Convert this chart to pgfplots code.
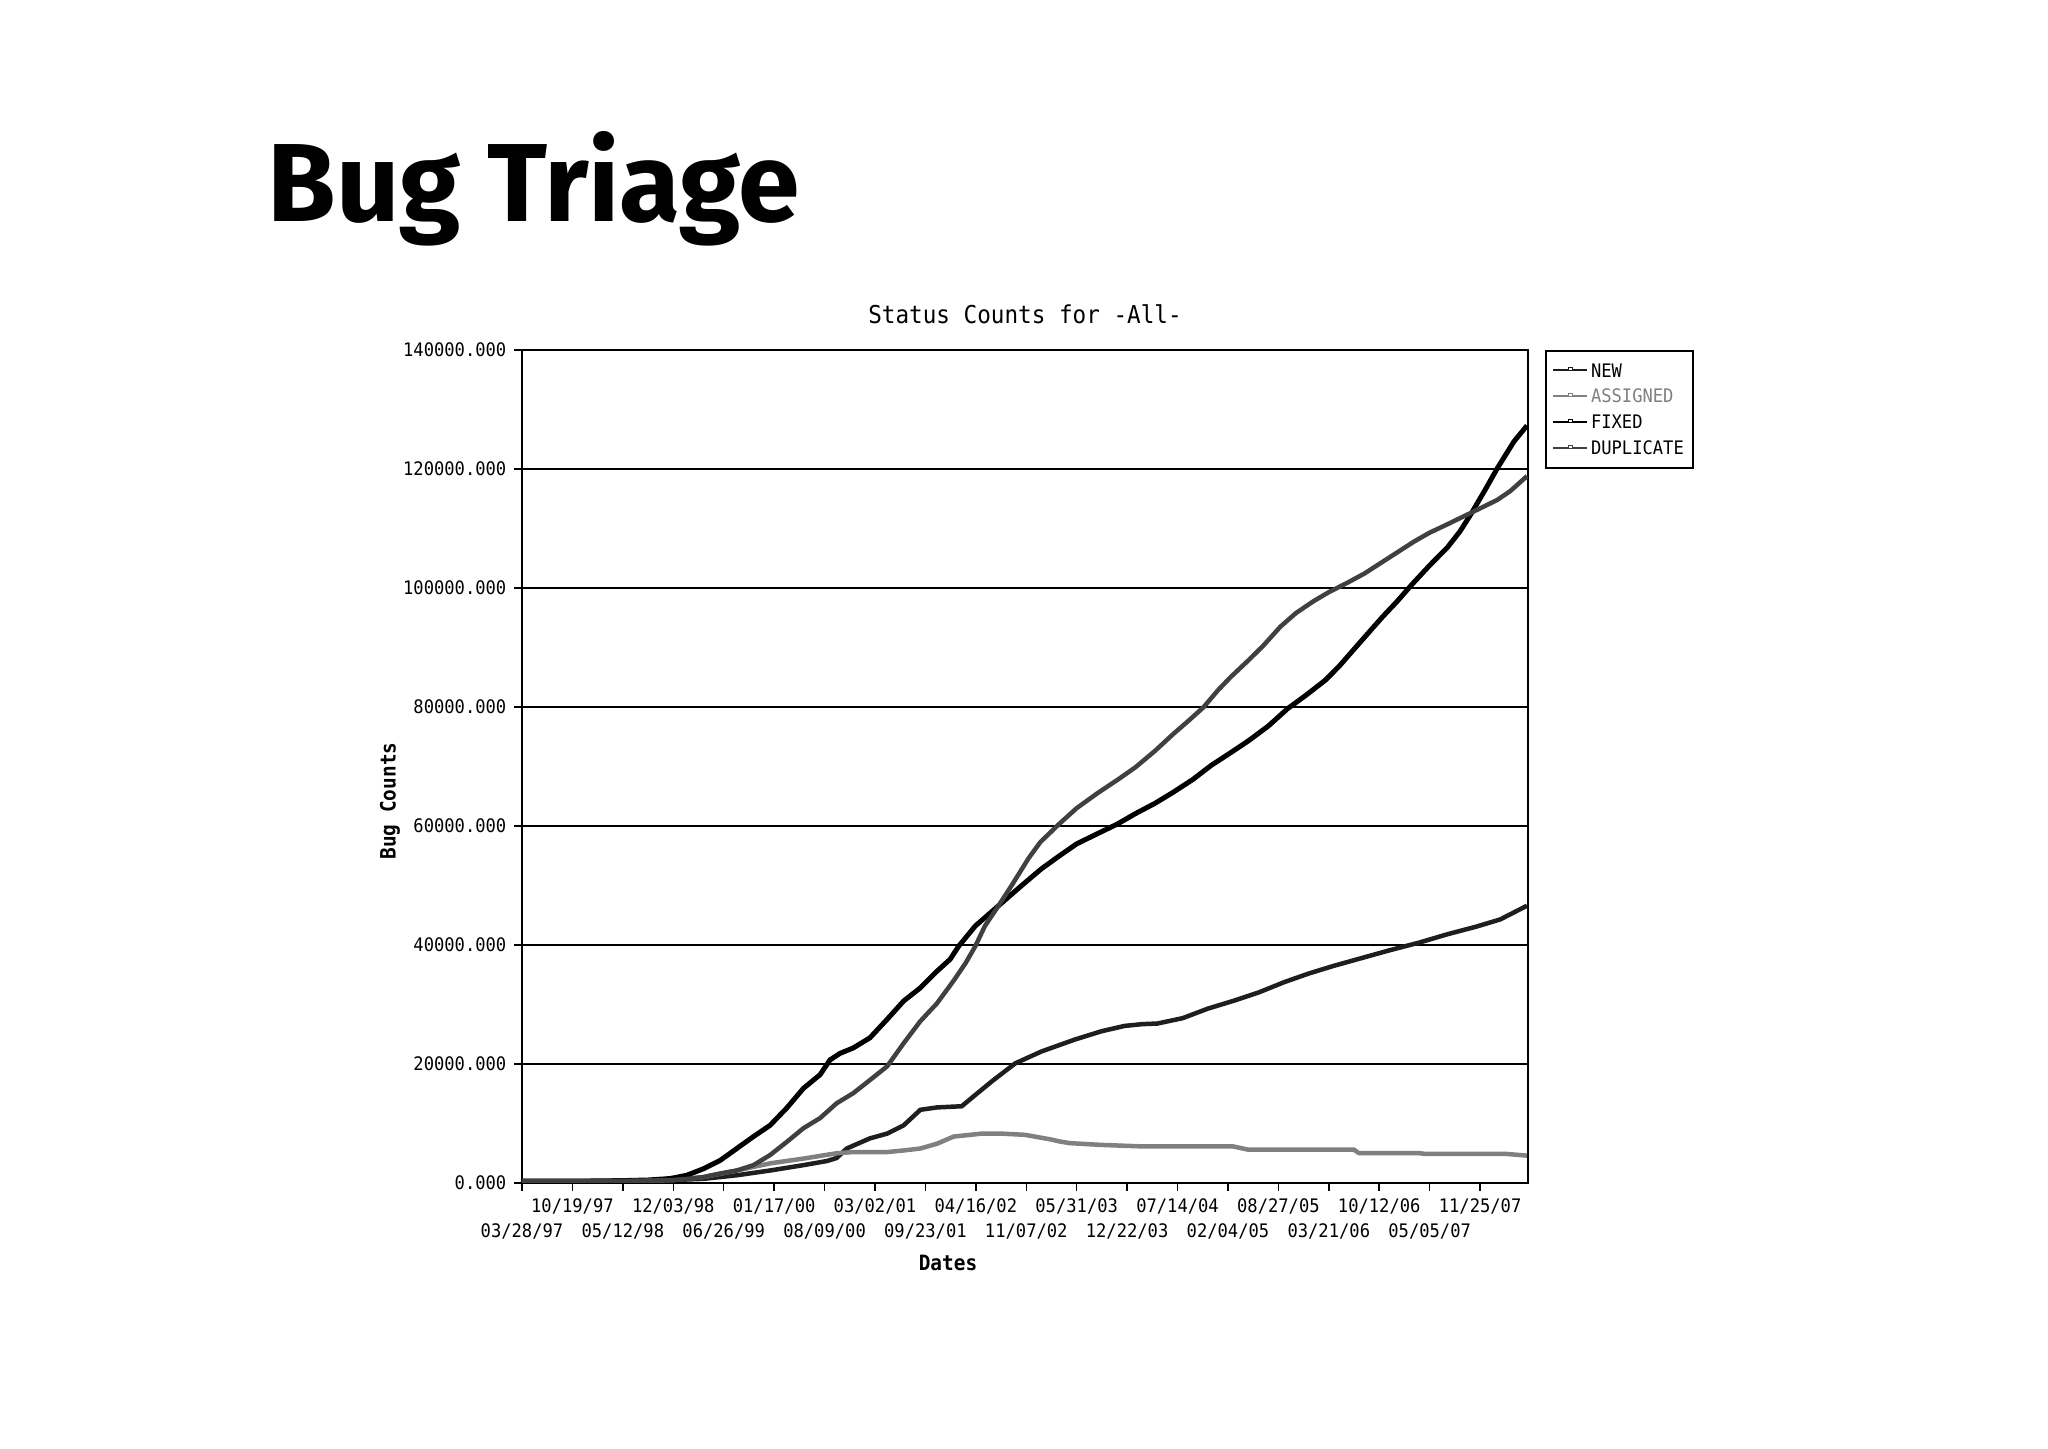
\documentclass[border=0pt]{standalone}
\usepackage{pgfplots}
\pgfplotsset{compat=1.18}
\usepackage{fontspec}
\newfontfamily\monofont[FakeStretch=0.92]{DejaVu Sans Mono}
\newfontfamily\slidefont{Fira Sans}
\newcommand\cf{\monofont\fontsize{5.3pt}{6pt}\selectfont}
\newcommand\cft{\monofont\fontsize{7pt}{8pt}\selectfont}
\newcommand\cfb{\monofont\bfseries\fontsize{6pt}{7pt}\selectfont}

\definecolor{cnew}{HTML}{1E1E1E}
\definecolor{cassigned}{HTML}{808080}
\definecolor{cfixed}{HTML}{000000}
\definecolor{cdup}{HTML}{404040}

\begin{document}
\begin{tikzpicture}
    \useasboundingbox (0,0) rectangle (204.8mm,144.8mm);

    \node[anchor=base west, inner sep=0pt,
          font=\slidefont\bfseries\fontsize{31.6pt}{36pt}\selectfont]
        at (26.7mm,122.6mm) {Bug Triage};

    \begin{axis}[
            at={(52.2mm,26.5mm)}, anchor=south west,
            scale only axis,
            width=100.6mm, height=83.3mm,
            %
            xmin=0, xmax=19.95,
            ymin=0, ymax=140000,
            %
            axis line style={line width=0.2mm},
            ytick={0,20000,40000,60000,80000,100000,120000,140000},
            yticklabels={0.000,20000.000,40000.000,60000.000,80000.000,100000.000,120000.000,140000.000},
            scaled y ticks=false,
            xtick={1,3,5,7,9,11,13,15,17,19},
            xticklabels={10/19/97,12/03/98,01/17/00,03/02/01,04/16/02,05/31/03,07/14/04,08/27/05,10/12/06,11/25/07},
            extra x ticks={0,2,4,6,8,10,12,14,16,18},
            extra x tick labels={03/28/97,05/12/98,06/26/99,08/09/00,09/23/01,11/07/02,12/22/03,02/04/05,03/21/06,05/05/07},
            extra x tick style={xticklabel style={yshift=-2.5mm}},
            ymajorgrids,
            major grid style={black, line width=0.15mm},
            tick align=outside,
            major tick length=0.8mm,
            every tick/.style={black, line width=0.15mm},
            tick pos=left,
            tick label style={font=\cf, inner sep=0pt},
            yticklabel style={anchor=east, xshift=-0.7mm},
            xticklabel style={anchor=center, yshift=-1.55mm},
            %
            legend style={at={(1,1)}, anchor=north west, xshift=1.7mm,
                draw=black, line width=0.2mm, font=\cf,
                inner xsep=0.6mm, inner ysep=0.9mm, row sep=0.5mm,
                nodes={inner sep=0.3mm, text height=1.4mm, text depth=0.1mm}},
            legend cell align=left,
            legend image code/.code={
                \draw[#1, line width=0.2mm] (0mm,0mm) -- (3.4mm,0mm);
                \draw[#1, line width=0.1mm, fill=white] (1.5mm,0mm) rectangle (1.9mm,0.3mm);
            },
        ]

        % NEW
        \addplot[cnew, line width=0.45mm] coordinates {
            (0,300) (1,300) (2,300) (2.5,400) (3,500) (3.6,700) (4.26,1300)
            (4.92,2100) (5.58,3000) (6.05,3700) (6.24,4200) (6.44,5800)
            (6.9,7500) (7.24,8300) (7.57,9700) (7.9,12300) (8.23,12700)
            (8.72,12900) (8.99,14800) (9.32,17100) (9.78,20100) (10.3,22100)
            (10.96,24100) (11.49,25500) (11.95,26400) (12.3,26700) (12.6,26800)
            (13.1,27700) (13.6,29300) (14.14,30700) (14.6,32000) (15.13,33800)
            (15.6,35200) (16.1,36500) (16.65,37800) (17.2,39100) (17.79,40400)
            (18.35,41800) (18.93,43100) (19.4,44300) (19.93,46600)
        };
        \addlegendentry{NEW}

        % ASSIGNED
        \addplot[cassigned, line width=0.45mm] coordinates {
            (0,300) (1,300) (2,300) (3,500) (3.6,1000) (4.26,2100) (4.92,3300)
            (5.58,4100) (6.24,5000) (6.57,5200) (7.24,5200) (7.6,5500)
            (7.9,5800) (8.23,6600) (8.56,7800) (8.89,8100) (9.12,8300)
            (9.5,8300) (9.97,8100) (10.5,7300) (10.65,7000) (10.86,6700)
            (11.49,6400) (12.3,6150) (14.1,6150) (14.4,5600) (16.5,5600)
            (16.6,5000) (17.8,5000) (17.9,4900) (19.5,4900) (19.93,4600)
        };
        \addlegendentry{\color{cassigned}ASSIGNED}

        % FIXED
        \addplot[cfixed, line width=0.5mm] coordinates {
            (0,300) (1,300) (2,400) (2.5,500) (2.94,750) (3.27,1300) (3.6,2400)
            (3.93,3800) (4.26,5800) (4.59,7800) (4.92,9700) (5.25,12600)
            (5.58,15900) (5.91,18200) (6.11,20700) (6.31,21800) (6.57,22700)
            (6.9,24400) (7.24,27500) (7.57,30600) (7.9,32800) (8.23,35600)
            (8.49,37600) (8.66,39800) (8.99,43200) (9.45,46600) (9.91,50000)
            (10.3,52800) (10.66,55000) (11.0,57000) (11.41,58700) (11.8,60300)
            (12.17,62100) (12.55,63800) (12.92,65700) (13.3,67800) (13.67,70200)
            (14.05,72300) (14.42,74400) (14.8,76800) (15.18,79700) (15.55,82000)
            (15.93,84500) (16.2,86800) (16.53,90000) (16.8,92600) (17.06,95100)
            (17.36,97800) (17.66,100700) (18.0,103800) (18.35,106800)
            (18.6,109500) (18.81,112300) (19.1,116500) (19.34,120100)
            (19.67,124600) (19.93,127300)
        };
        \addlegendentry{FIXED}

        % DUPLICATE
        \addplot[cdup, line width=0.45mm] coordinates {
            (0,300) (1,300) (2,350) (3,500) (3.3,700) (3.6,1000) (3.93,1600)
            (4.26,2100) (4.59,3000) (4.92,4700) (5.25,6900) (5.58,9200)
            (5.91,10900) (6.24,13400) (6.57,15100) (6.9,17300) (7.24,19600)
            (7.57,23500) (7.9,27200) (8.23,30200) (8.56,34000) (8.8,37000)
            (8.99,39800) (9.18,43200) (9.45,46600) (9.71,50000) (10.04,54500)
            (10.28,57300) (10.66,60400) (11.0,63000) (11.41,65500) (11.8,67700)
            (12.17,69900) (12.55,72600) (12.92,75500) (13.22,77700) (13.52,80000)
            (13.8,82800) (14.05,85000) (14.4,87800) (14.7,90300) (15.04,93500)
            (15.35,95800) (15.7,97800) (16.0,99300) (16.35,100800) (16.7,102400)
            (17.03,104200) (17.36,106000) (17.69,107800) (18.0,109300)
            (18.35,110700) (18.81,112600) (19.1,113800) (19.34,114800)
            (19.6,116300) (19.93,118800)
        };
        \addlegendentry{DUPLICATE}
    \end{axis}

    \node[font=\cft, inner sep=0pt] at (102.5mm,113.4mm) {Status Counts for -All-};
    \node[font=\cfb, inner sep=0pt] at (94.8mm,18.5mm) {Dates};
    \node[font=\cfb, inner sep=0pt, rotate=90] at (39.0mm,64.7mm) {Bug Counts};
\end{tikzpicture}
\end{document}
